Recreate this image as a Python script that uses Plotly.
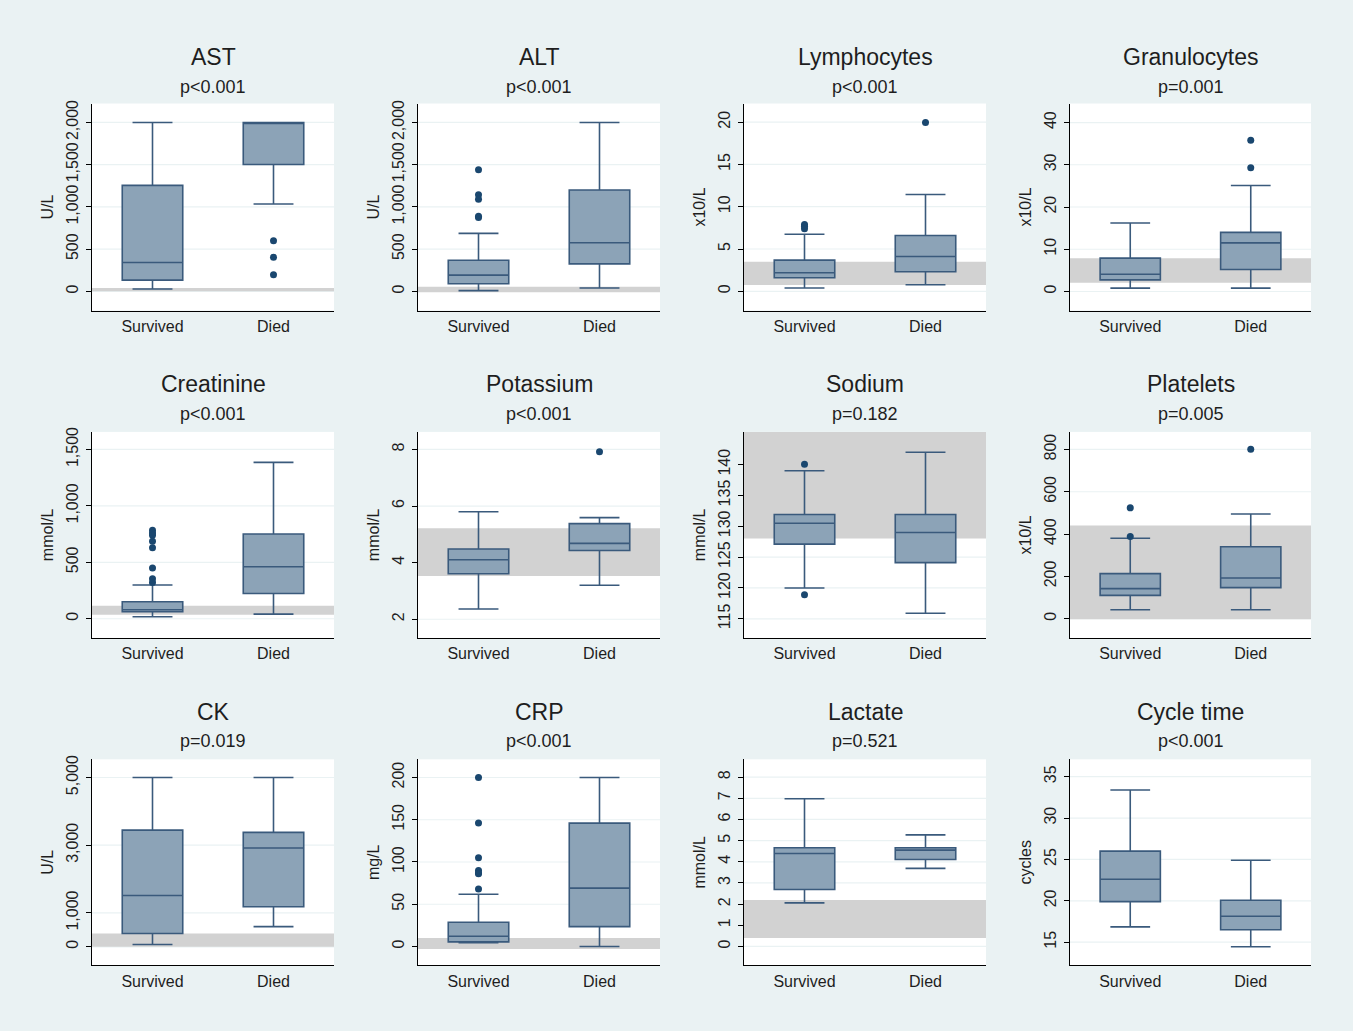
import plotly.graph_objects as go

W, H = 1353, 1031

panel_names = ["AST", "ALT", "Lymphocytes", "Granulocytes",
               "Creatinine", "Potassium", "Sodium", "Platelets",
               "CK", "CRP", "Lactate", "Cycle time"]
p_values = ["p<0.001", "p<0.001", "p<0.001", "p=0.001",
            "p<0.001", "p<0.001", "p=0.182", "p=0.005",
            "p=0.019", "p<0.001", "p=0.521", "p<0.001"]
units = ["U/L", "U/L", "x10/L", "x10/L",
         "mmol/L", "mmol/L", "mmol/L", "x10/L",
         "U/L", "mg/L", "mmol/L", "cycles"]
groups = ["Survived", "Died"]

# box statistics
surv_lower  = [27, 8, 0.39, 0.8, 18, 2.36, 120.0, 42, 68, 4.5, 2.06, 16.85]
surv_q1     = [133, 90, 1.61, 2.75, 62, 3.61, 127.1, 110, 391, 5.5, 2.69, 19.9]
surv_median = [341, 192, 2.2, 4.1, 79, 4.1, 130.5, 142, 1514, 12.1, 4.39, 22.6]
surv_q3     = [1255, 369, 3.69, 7.9, 150, 4.48, 131.9, 213, 3447, 28.6, 4.66, 26.0]
surv_upper  = [2000, 686, 6.75, 16.2, 299, 5.8, 139.0, 380, 5000, 61.8, 6.98, 33.4]

died_lower  = [1035, 39, 0.78, 0.8, 41, 3.2, 115.9, 42, 596, 0, 3.69, 14.44]
died_q1     = [1502, 325, 2.31, 5.2, 223, 4.43, 124.1, 147, 1182, 23.5, 4.11, 16.5]
died_median = [2000, 576, 4.12, 11.5, 461, 4.68, 129.0, 192, 2920, 69, 4.55, 18.13]
died_q3     = [2000, 1200, 6.6, 14.0, 751, 5.38, 131.9, 340, 3379, 146, 4.66, 20.06]
died_upper  = [2000, 2000, 11.45, 25.1, 1385, 5.59, 142.0, 495, 5000, 200, 5.27, 24.9]

surv_outliers = [[], [1439, 1145, 1090, 890, 875], [7.9, 7.7, 7.4], [],
                 [784, 760, 740, 687, 628, 449, 355, 320], [], [140.05, 118.9], [524, 388],
                 [], [200, 146, 105, 90, 87, 86, 68], [], []]
died_outliers = [[600, 404, 196], [], [19.96], [35.8, 29.3],
                 [], [7.92], [], [801],
                 [], [], [], []]

# reference ranges (grey bands)
band_low  = [0, -10, 0.75, 2.1, 35, 3.53, 128.0, -3, 0, -3, 0.4, None]
band_high = [40, 55, 3.5, 7.9, 115, 5.22, 146, 441, 392, 10, 2.2, None]

y_tickvals = [[0, 500, 1000, 1500, 2000], [0, 500, 1000, 1500, 2000],
              [0, 5, 10, 15, 20], [0, 10, 20, 30, 40],
              [0, 500, 1000, 1500], [2, 4, 6, 8],
              [115, 120, 125, 130, 135, 140], [0, 200, 400, 600, 800],
              [0, 1000, 3000, 5000], [0, 50, 100, 150, 200],
              [0, 1, 2, 3, 4, 5, 6, 7, 8], [15, 20, 25, 30, 35]]
y_ranges = [[-227, 2224], [-227, 2224], [-2.27, 22.2], [-4.5, 44.5],
            [-170, 1655], [1.34, 8.62], [111.9, 145.3], [-91, 883],
            [-547, 5537], [-22.3, 221.5], [-0.89, 8.84], [12.2, 37.1]]

# layout in pixels
cols_px = [(92, 334), (418, 660), (744, 986), (1070, 1311)]
rows_px = [(99, 307), (429, 636), (758, 965)]
title_y_px = [52, 381, 710]
pval_y_px = [82, 411, 740]

BG = "#EAF2F3"
FILL = "#8CA3B7"
LINE = "#3A5A7C"
DOT = "#1A476F"
BAND = "#D2D2D2"
TXT = "#1E1E1E"
FONT = "Arial, Liberation Sans, sans-serif"

fig = go.Figure()
annotations = []
grid_shapes = []
band_shapes = []
layout_axes = {}

for i in range(12):
    r, c = divmod(i, 4)
    n = i + 1
    xa = "x" if n == 1 else f"x{n}"
    ya = "y" if n == 1 else f"y{n}"
    xkey = "xaxis" if n == 1 else f"xaxis{n}"
    ykey = "yaxis" if n == 1 else f"yaxis{n}"
    x0, x1 = cols_px[c]
    y0, y1 = rows_px[r]

    fig.add_trace(go.Box(
        x=groups,
        q1=[surv_q1[i], died_q1[i]],
        median=[surv_median[i], died_median[i]],
        q3=[surv_q3[i], died_q3[i]],
        lowerfence=[surv_lower[i], died_lower[i]],
        upperfence=[surv_upper[i], died_upper[i]],
        width=0.5, whiskerwidth=0.66,
        fillcolor=FILL, line=dict(color=LINE, width=1.6),
        boxpoints=False, showlegend=False, hoverinfo="skip",
        xaxis=xa, yaxis=ya,
    ))
    ox = ["Survived"] * len(surv_outliers[i]) + ["Died"] * len(died_outliers[i])
    oy = surv_outliers[i] + died_outliers[i]
    if oy:
        fig.add_trace(go.Scatter(
            x=ox, y=oy, mode="markers",
            marker=dict(symbol="circle", size=7, color=DOT),
            showlegend=False, hoverinfo="skip",
            xaxis=xa, yaxis=ya,
        ))

    for tv in y_tickvals[i]:
        grid_shapes.append(dict(type="line", xref=f"{xa} domain", yref=ya,
                                x0=0, x1=1, y0=tv, y1=tv,
                                line=dict(color=BG, width=1.2), layer="below"))
    if band_low[i] is not None:
        band_shapes.append(dict(type="rect", xref=f"{xa} domain", yref=ya,
                                x0=0, x1=1, y0=band_low[i], y1=band_high[i],
                                fillcolor=BAND, line=dict(width=0), layer="below"))

    layout_axes[xkey] = dict(
        domain=[x0 / W, x1 / W], anchor=ya,
        type="category", categoryorder="array", categoryarray=groups,
        range=[-0.5, 1.5], showgrid=False, zeroline=False,
        showline=True, linecolor="#000000", linewidth=1,
        ticks="outside", ticklen=1, tickcolor="rgba(0,0,0,0)",
        tickfont=dict(size=16, color=TXT, family=FONT),
        fixedrange=True,
    )
    layout_axes[ykey] = dict(
        domain=[1 - y1 / H, 1 - y0 / H], anchor=xa,
        range=y_ranges[i], tickvals=y_tickvals[i], tickformat=",d",
        tickangle=-90, ticks="outside", ticklen=5, tickcolor="#000000",
        ticklabelstandoff=2,
        showgrid=False, zeroline=False,
        showline=True, linecolor="#000000", linewidth=1,
        tickfont=dict(size=16, color=TXT, family=FONT),
        title=dict(text=units[i], standoff=5,
                   font=dict(size=16, color=TXT, family=FONT)),
        fixedrange=True,
    )

    cx = (x0 + x1) / 2 / W
    annotations.append(dict(text=panel_names[i], x=cx, y=1 - title_y_px[r] / H,
                            xref="paper", yref="paper", showarrow=False,
                            xanchor="center", yanchor="middle",
                            font=dict(size=23, color=TXT, family=FONT)))
    annotations.append(dict(text=p_values[i], x=cx, y=1 - pval_y_px[r] / H,
                            xref="paper", yref="paper", showarrow=False,
                            xanchor="center", yanchor="middle",
                            font=dict(size=18, color=TXT, family=FONT)))

fig.update_layout(
    width=W, height=H, autosize=False,
    margin=dict(l=0, r=0, t=0, b=0),
    paper_bgcolor=BG, plot_bgcolor="#FFFFFF",
    annotations=annotations, shapes=grid_shapes + band_shapes,
    font=dict(family=FONT, color=TXT),
    **layout_axes,
)

fig.write_html("out.html", config={"displayModeBar": False},
               post_script="document.body.style.margin='0';document.body.style.overflow='hidden';")
